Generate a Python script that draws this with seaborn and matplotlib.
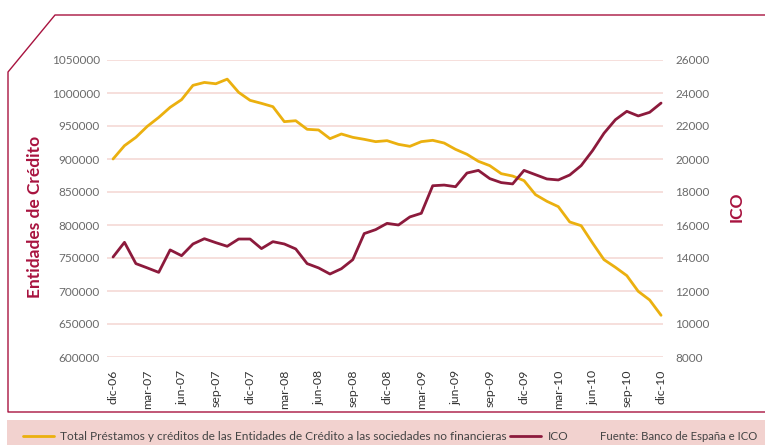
import numpy as np
import pandas as pd
import matplotlib
matplotlib.use('Agg')
import matplotlib.pyplot as plt
import seaborn as sns
from matplotlib.lines import Line2D
from matplotlib.patches import Rectangle

# monthly data, dic-06 .. dic-10
entidades = [900000, 920200, 932800, 949500, 963000, 978300, 989900, 1011600, 1016000,
             1014000, 1021000, 1001000, 988900, 984300, 979300, 956600, 958000, 945000,
             944000, 930800, 937900, 932800, 929800, 926300, 927800, 922200, 919200,
             926300, 928300, 924200, 914600, 907100, 896500, 889900, 877800, 874200,
             867200, 846000, 835900, 827800, 804600, 799000, 772700, 747500, 735900,
             723300, 699500, 686400, 663200]
ico = [14060, 14950, 13660, 13400, 13130, 14490, 14140, 14850, 15170, 14930, 14710,
       15150, 15150, 14570, 14990, 14850, 14550, 13660, 13400, 13030, 13350, 13900,
       15480, 15720, 16100, 16000, 16490, 16710, 18380, 18420, 18320, 19150, 19310,
       18810, 18570, 18490, 19310, 19050, 18790, 18730, 19030, 19600, 20510, 21560,
       22380, 22890, 22610, 22830, 23390]
tick_labels = ['dic-06', 'mar-07', 'jun-07', 'sep-07', 'dic-07', 'mar-08', 'jun-08',
               'sep-08', 'dic-08', 'mar-09', 'jun-09', 'sep-09', 'dic-09', 'mar-10',
               'jun-10', 'sep-10', 'dic-10']
label_total = 'Total Préstamos y créditos de las Entidades de Crédito a las sociedades no financieras'
label_ico = 'ICO'
fuente = 'Fuente: Banco de España e ICO'

df = pd.DataFrame({'mes': np.arange(len(entidades)), 'entidades': entidades, 'ico': ico})

YELLOW = '#ebb00f'
CRIMSON = '#8c1a3c'
FRAME = '#a8133f'
GRID = '#f6dcd9'
GREY = '#6a6a6a'

sns.set_theme(style='white')
plt.rcParams['font.family'] = ['Lato', 'DejaVu Sans']

W, H = 765, 445
fig = plt.figure(figsize=(W / 100, H / 100), dpi=100)
ax = fig.add_axes([107 / W, 1 - 357 / H, (663 - 107) / W, (357 - 60) / H])
ax2 = ax.twinx()

sns.lineplot(data=df, x='mes', y='entidades', ax=ax, color=YELLOW, linewidth=2.0, zorder=3)
sns.lineplot(data=df, x='mes', y='ico', ax=ax2, color=CRIMSON, linewidth=2.0, zorder=3)

ax.set_xlim(-0.53, 48.17)
ax.set_ylim(600000, 1050000)
ax.set_yticks(np.arange(600000, 1050001, 50000))
ax2.set_ylim(8000, 26000)
ax2.set_yticks(np.arange(8000, 26001, 2000))

ax.set_xticks(np.arange(0, 49, 3))
ax.set_xticklabels(tick_labels, rotation=90, fontsize=8.8, color='#333333')
ax.tick_params(axis='x', length=0, pad=9)
ax.tick_params(axis='y', length=0, pad=5, labelsize=8.5, labelcolor=GREY)
ax2.tick_params(axis='y', length=0, pad=9, labelsize=8.5, labelcolor=GREY)
ax.yaxis.set_major_formatter(plt.FuncFormatter(lambda v, p: f'{v:.0f}'))
ax2.yaxis.set_major_formatter(plt.FuncFormatter(lambda v, p: f'{v:.0f}'))

ax.grid(axis='y', color=GRID, linewidth=1.3)
ax.set_axisbelow(True)
for a in (ax, ax2):
    for s in a.spines.values():
        s.set_visible(False)
    a.set_xlabel('')
ax.set_ylabel('')
ax2.set_ylabel('')
ax.patch.set_alpha(0)

fig.text(35 / W, 1 - 217 / H, 'Entidades de Crédito', rotation=90, ha='center', va='center',
         fontsize=12.5, fontweight='bold', color=FRAME)
fig.text(737 / W, 1 - 207 / H, 'ICO', rotation=90, ha='center', va='center',
         fontsize=12.5, fontweight='bold', color=FRAME)

# frame with chamfered corner
fx = np.array([780, 55, 8, 8, 780]) / W
fy = 1 - np.array([15, 15, 72, 412, 412]) / H
fig.add_artist(Line2D(fx, fy, color=FRAME, linewidth=1.0, transform=fig.transFigure))

# legend band
fig.add_artist(Rectangle((7 / W, 0), 1, (H - 420) / H, transform=fig.transFigure,
                         facecolor='#f2d2cf', edgecolor='none', zorder=0))
handles = [Line2D([], [], color=YELLOW, linewidth=2.0), Line2D([], [], color=CRIMSON, linewidth=2.0)]
fig.legend(handles, [label_total, label_ico], loc='center left', ncol=2, frameon=False,
           bbox_to_anchor=(12 / W, 1 - 437 / H), fontsize=8.55, handlelength=2.6,
           handletextpad=0.55, columnspacing=0.3, labelcolor='#444444')
fig.text(600 / W, 1 - 437 / H, fuente, ha='left', va='center', fontsize=8.2, color='#444444')

plt.savefig('out.png', dpi=100)
plt.close()
